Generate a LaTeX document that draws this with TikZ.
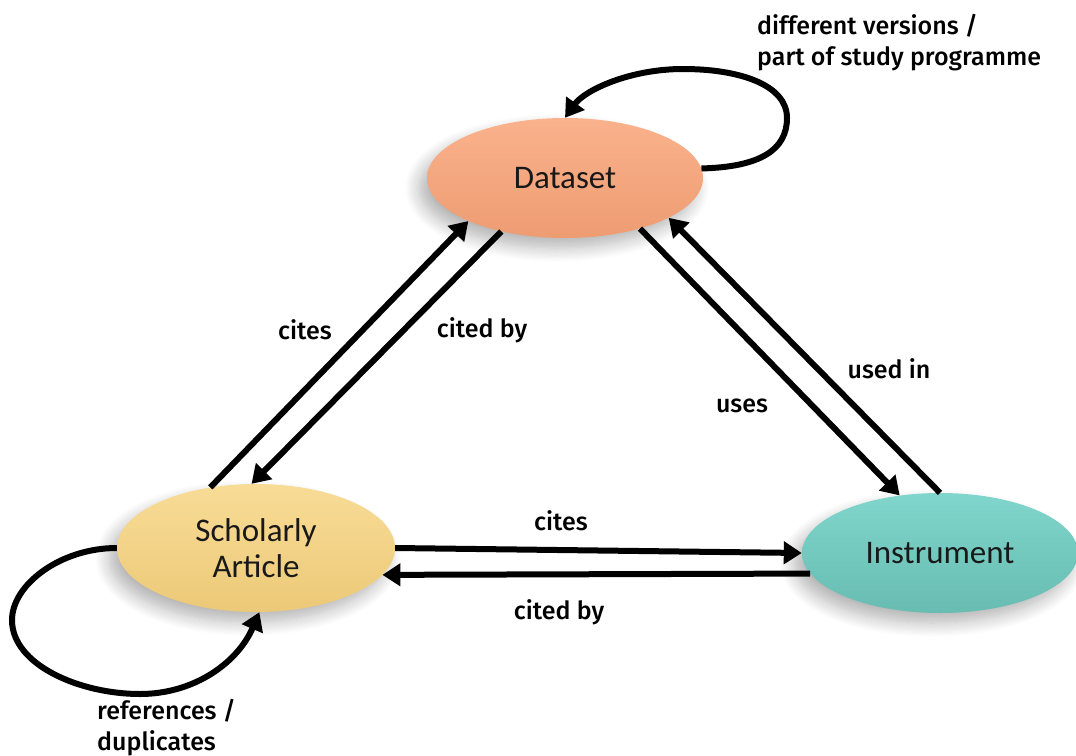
\documentclass[tikz,border=0pt]{standalone}
\usepackage{fontspec}
\setmainfont{Carlito}
\newfontfamily\lblfont{Fira Sans}[UprightFont=* Medium]
\usetikzlibrary{arrows.meta,shapes.geometric,shadows.blur}

\definecolor{dsettop}{RGB}{250,178,140}
\definecolor{dsetbot}{RGB}{238,156,114}
\definecolor{arttop}{RGB}{248,220,150}
\definecolor{artbot}{RGB}{236,201,120}
\definecolor{insttop}{RGB}{128,214,204}
\definecolor{instbot}{RGB}{104,188,178}

\begin{document}
\begin{tikzpicture}[x=1pt,y=-1pt,
  entity/.style={ellipse, inner sep=0pt, minimum width=276pt, minimum height=120pt,
    align=center, font=\fontsize{33}{36}\selectfont, text=black!90,
    blur shadow={shadow xshift=-8pt, shadow yshift=-10pt, shadow opacity=30,
      shadow blur radius=14pt, shadow blur steps=12}},
  rel/.style={line width=6pt, -{Triangle[length=18pt,width=22pt]}},
  lbl/.style={font=\lblfont\fontsize{25}{31}\selectfont, inner sep=0pt, align=left}]
\useasboundingbox (0,0) rectangle (1076,755);

\node [entity, top color=dsettop, bottom color=dsetbot] (data) at (565,178) {Dataset};
\node [entity, top color=arttop, bottom color=artbot, minimum width=278pt, minimum height=128pt] (art) at (256,548) {Scholarly\\Article};
\node [entity, top color=insttop, bottom color=instbot] (inst) at (940,553) {Instrument};

\draw [rel] (art.127) -- (data.204);
\draw [rel] (data.220) -- (art.94);
\draw [rel] (data.326) -- (inst.125);
\draw [rel] (inst.90) -- (data.339);
\draw [rel] (art.east) -- (inst.west);
\draw [rel] (inst.189) -- (art.348);

\draw [rel] (data.4) .. controls (760,167) and (787,150) .. (787,118)
  .. controls (787,85) and (740,69) .. (683,69)
  .. controls (630,69) and (585,90) .. (data.north);
\draw [rel] (art.west) .. controls (60,548) and (12,585) .. (12,620)
  .. controls (12,665) and (80,694) .. (140,694)
  .. controls (195,694) and (238,662) .. (art.273);

\node [lbl] (l1) at (305,330) {cites};
\node [lbl] (l2) at (482,330) {cited by};
\node [lbl] (l3) at (742,406) {uses};
\node [lbl] (l4) at (889,369) {used in};
\node [lbl] (l5) at (561,521) {cites};
\node [lbl] (l6) at (559,612) {cited by};
\node [lbl, anchor=north west] (l7) at (757,14) {different versions /\\part of study programme};
\node [lbl, anchor=north west] (l8) at (97,699) {references /\\duplicates};
\end{tikzpicture}
\end{document}
